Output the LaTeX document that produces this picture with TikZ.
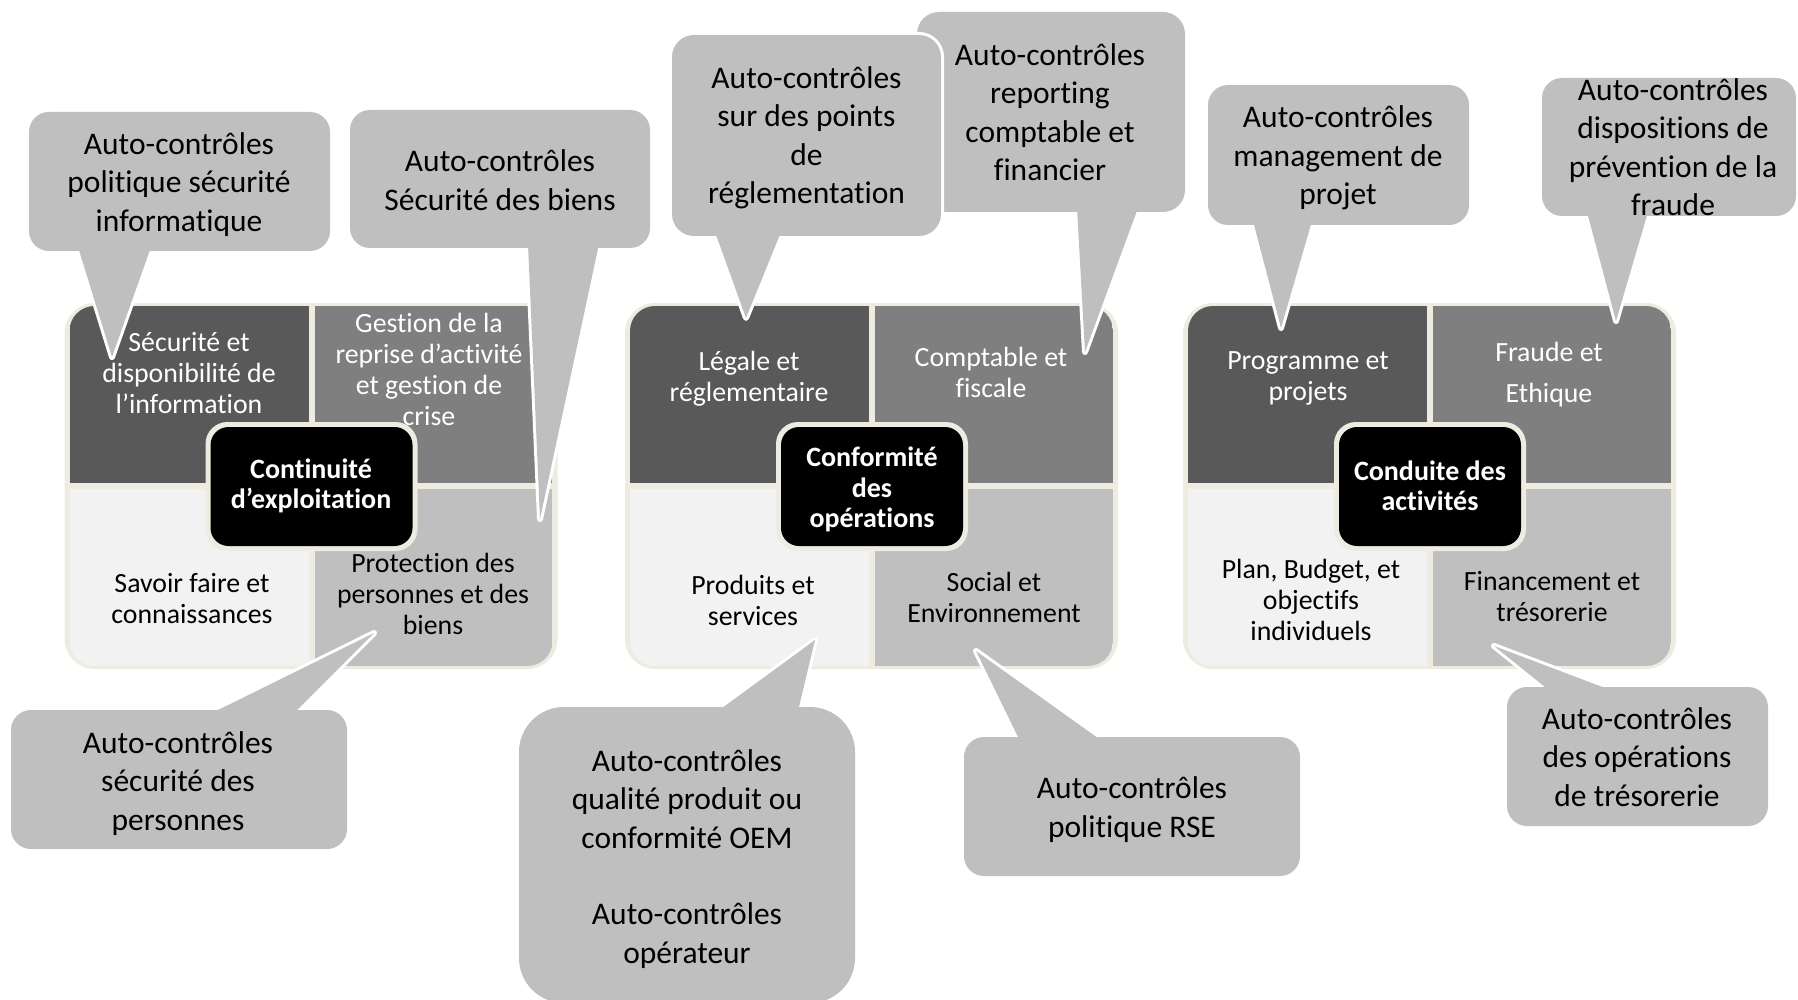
\documentclass[tikz,border=0pt]{standalone}
\usepackage{fontspec}
\setmainfont{Carlito}[Ligatures=CommonOff]
\definecolor{cream}{HTML}{EEECE1}
\definecolor{qtl}{HTML}{595959}
\definecolor{qtr}{HTML}{7F7F7F}
\definecolor{qbl}{HTML}{F2F2F2}
\definecolor{qbr}{HTML}{BFBFBF}
\definecolor{cgray}{HTML}{BFBFBF}
\newcommand\sst{\rule[-0.25em]{0pt}{1em}}
\newcommand\callout[2]{%
  \draw[white, line width=6pt, rounded corners=#2] (#1-nw) rectangle (#1-se);
  \draw[white, line width=6pt, line join=round] (#1-l) -- (#1-tip) -- (#1-r) -- cycle;
  \fill[cgray, rounded corners=#2] (#1-nw) rectangle (#1-se);
  \fill[cgray] (#1-l) -- (#1-tip) -- (#1-r) -- cycle;
}
\newcommand\quadgroup[2]{%
  \begin{scope}[shift={(#1,0)}]
    \fill[cream, rounded corners=30pt] (0,303) rectangle (493,669);
    \begin{scope}
      \clip[rounded corners=25pt] (5,306) rectangle (488,666);
      \fill[qtl] (5,306) rectangle (244,483);
      \fill[qtr] (250,306) rectangle (488,483);
      \fill[qbl] (5,489) rectangle (244,666);
      \fill[qbr] (250,489) rectangle (488,666);
    \end{scope}
    \fill[cream, rounded corners=22pt] ({247-#2-5},422) rectangle ({247+#2+5},551);
    \fill[black, rounded corners=18pt] ({247-#2},427) rectangle ({247+#2},546);
  \end{scope}}
\tikzset{
  qtxtw/.style={align=center, text=white, font=\fontsize{27.8}{31}\selectfont, inner sep=0pt},
  qtxtb/.style={qtxtw, text=black},
  ctxt/.style={align=center, text=white, font=\fontsize{28}{30.5}\selectfont\bfseries, inner sep=0pt},
  ltxt/.style={align=center, text=black, font=\fontsize{31.5}{38.4}\selectfont, inner sep=0pt},
}
\begin{document}
\begin{tikzpicture}[x=1pt, y=-1pt]
\useasboundingbox (0,0) rectangle (1798,1000);
\fill[white] (0,0) rectangle (1798,1000);

% ---------- groups ----------
\quadgroup{64.5}{101}
\quadgroup{625}{91}
\quadgroup{1183}{91}

% group 1 texts
\node[qtxtw] (g1tl) at (189,376) {\sst Sécurité et\\disponibilité de\\l’information\sst};
\node[qtxtw] (g1tr) at (429,372) {\sst Gestion de la\\reprise d’activité\\et gestion de\\crise\sst};
\node[qtxtb] (g1bl) at (192,601) {\sst Savoir faire et\\connaissances\sst};
\node[qtxtb] (g1br) at (433,597) {\sst Protection des\\personnes et des\\biens\sst};
\node[ctxt] (g1c) at (311,486.5) {\sst Continuité\\d’exploitation\sst};

% group 2 texts
\node[qtxtw] (g2tl) at (749,379) {\sst Légale et\\réglementaire\sst};
\node[qtxtw] (g2tr) at (991,375) {\sst Comptable et\\fiscale\sst};
\node[qtxtb] (g2bl) at (753,603.5) {\sst Produits et\\services\sst};
\node[qtxtb] (g2br) at (994,600) {\sst Social et\\Environnement\sst};
\node[ctxt] (g2c) at (872,490) {\sst Conformité\\des\\opérations\sst};

% group 3 texts
\node[qtxtw] (g3tl) at (1308,378) {\sst Programme et\\projets\sst};
\node[qtxtw] (g3tr) at (1549,374.6) {\sst Fraude et\\[10pt]Ethique\sst};
\node[qtxtb] (g3bl) at (1311,602.5) {\sst Plan, Budget, et\\objectifs\\individuels\sst};
\node[qtxtb] (g3br) at (1552,599) {\sst Financement et\\trésorerie\sst};
\node[ctxt] (g3c) at (1430,488.6) {\sst Conduite des\\activités\sst};

% ---------- callouts ----------
% C1
\coordinate (c1-nw) at (29,112); \coordinate (c1-se) at (330,251);
\coordinate (c1-l) at (78,247); \coordinate (c1-r) at (151,247); \coordinate (c1-tip) at (112,357);
\callout{c1}{20pt}
\node[ltxt] (t1) at (179,185) {\sst Auto-contrôles\\politique sécurité\\informatique\sst};
% C2
\coordinate (c2-nw) at (350,110); \coordinate (c2-se) at (650,248);
\coordinate (c2-l) at (528,244); \coordinate (c2-r) at (599,244); \coordinate (c2-tip) at (540,519);
\callout{c2}{20pt}
\node[ltxt] (t2) at (500,183) {\sst Auto-contrôles\\Sécurité des biens\sst};
% C3
\coordinate (c3-nw) at (11,710); \coordinate (c3-se) at (347,849);
\coordinate (c3-l) at (210,714); \coordinate (c3-r) at (293,714); \coordinate (c3-tip) at (374,633);
\callout{c3}{20pt}
\node[ltxt] (t3) at (178,784) {\sst Auto-contrôles\\sécurité des\\personnes\sst};
% C4
\coordinate (c4-nw) at (519,707); \coordinate (c4-se) at (855,1003);
\coordinate (c4-l) at (718,711); \coordinate (c4-r) at (798,711); \coordinate (c4-tip) at (815,640);
\callout{c4}{45pt}
\node[ltxt] (t4) at (687,859.5) {\sst Auto-contrôles\\qualité produit ou\\conformité OEM\\[38.4pt]Auto-contrôles\\opérateur\sst};
% C6
\coordinate (c6-nw) at (917,12); \coordinate (c6-se) at (1185,212);
\coordinate (c6-l) at (1077,208); \coordinate (c6-r) at (1138,208); \coordinate (c6-tip) at (1085,352);
\callout{c6}{22pt}
\node[ltxt] (t6) at (1050,115) {\sst Auto-contrôles\\reporting\\comptable et\\financier\sst};
% C5
\coordinate (c5-nw) at (672,35); \coordinate (c5-se) at (941,236);
\coordinate (c5-l) at (715,232); \coordinate (c5-r) at (781,232); \coordinate (c5-tip) at (746,318);
\callout{c5}{22pt}
\node[ltxt] (t5) at (806.5,138) {\sst Auto-contrôles\\sur des points\\de\\réglementation\sst};
% C7
\coordinate (c7-nw) at (964,737); \coordinate (c7-se) at (1300,876);
\coordinate (c7-l) at (1020,741); \coordinate (c7-r) at (1102,741); \coordinate (c7-tip) at (976,651);
\callout{c7}{20pt}
\node[ltxt] (t7) at (1132,810) {\sst Auto-contrôles\\politique RSE\sst};
% C8
\coordinate (c8-nw) at (1208,85); \coordinate (c8-se) at (1469,225);
\coordinate (c8-l) at (1253,221); \coordinate (c8-r) at (1312,221); \coordinate (c8-tip) at (1281,328);
\callout{c8}{20pt}
\node[ltxt] (t8) at (1338,158.5) {\sst Auto-contrôles\\management de\\projet\sst};
% C9
\coordinate (c9-nw) at (1542,78); \coordinate (c9-se) at (1796,216);
\coordinate (c9-l) at (1587,212); \coordinate (c9-r) at (1648,212); \coordinate (c9-tip) at (1616,321);
\callout{c9}{20pt}
\node[ltxt] (t9) at (1673,150) {\sst Auto-contrôles\\dispositions de\\prévention de la\\fraude\sst};
% C10
\coordinate (c10-nw) at (1507,687); \coordinate (c10-se) at (1768,826);
\coordinate (c10-l) at (1550,691); \coordinate (c10-r) at (1613,691); \coordinate (c10-tip) at (1494,646);
\callout{c10}{20pt}
\node[ltxt] (t10) at (1637,760) {\sst Auto-contrôles\\des opérations\\de trésorerie\sst};
\end{tikzpicture}
\end{document}
